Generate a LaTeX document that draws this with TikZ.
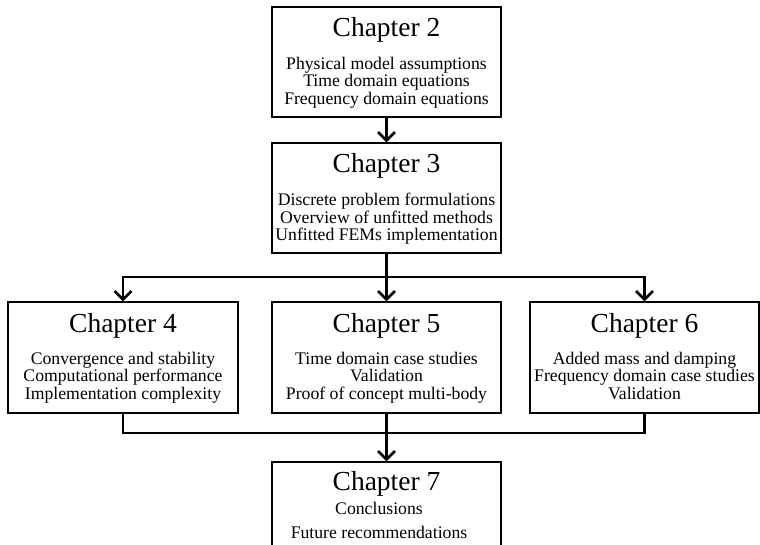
\documentclass[tikz,border=0pt]{standalone}
\usepackage{fontspec}
\setmainfont{Liberation Serif}
\usetikzlibrary{arrows.meta}
\tikzset{
  chbox/.style={draw=black, line width=1.2pt, minimum width=229pt, minimum height=110pt, inner sep=0pt},
  chtitle/.style={anchor=base, inner sep=0pt, font=\fontsize{27.5}{30}\selectfont},
  chbody/.style={anchor=north, inner sep=0pt, align=center, font=\fontsize{17.7}{17.4}\selectfont},
  conn/.style={line width=2.6pt, line join=miter, draw=black},
  arr/.style={conn, -{Straight Barb[length=8.5pt,width=17pt,line width=2.6pt]}}
}
\begin{document}
\begin{tikzpicture}[x=1pt,y=-1pt]
\useasboundingbox (0,0) rectangle (760,545);
\clip (0,0) rectangle (760,545);
% boxes
\node[chbox] (c2) at (386.5,62) {};
\node[chbox] (c3) at (386.5,198) {};
\node[chbox, minimum width=230pt, minimum height=111pt] (c4) at (123,357.5) {};
\node[chbox, minimum height=111pt] (c5) at (386.5,357.5) {};
\node[chbox, minimum height=111pt] (c6) at (644.5,357.5) {};
\node[chbox] (c7) at (386.5,517) {};
% titles
\node[chtitle] (t2) at (386.5,37) {Chapter 2};
\node[chtitle] (t3) at (386.5,172.5) {Chapter 3};
\node[chtitle] (t4) at (123,332) {Chapter 4};
\node[chtitle] (t5) at (386.5,332) {Chapter 5};
\node[chtitle] (t6) at (644.5,332) {Chapter 6};
\node[chtitle] (t7) at (386.5,490.5) {Chapter 7};
% bodies
\node[chbody] (b2) at (386.5,57) {Physical model assumptions\\Time domain equations\\Frequency domain equations};
\node[chbody] (b3) at (386.5,193) {Discrete problem formulations\\Overview of unfitted methods\\Unfitted FEMs implementation};
\node[chbody] (b4) at (123,352) {Convergence and stability\\Computational performance\\Implementation complexity};
\node[chbody] (b5) at (386.5,352) {Time domain case studies\\Validation\\Proof of concept multi-body};
\node[chbody] (b6) at (644.5,352) {Added mass and damping\\Frequency domain case studies\\Validation};
\node[chbody, font=\fontsize{17.7}{24}\selectfont] (b7) at (379,502.5) {Conclusions\\Future recommendations};
% connectors
\coordinate (j1) at (386.5,277);
\coordinate (j2) at (386.5,433);
\draw[arr] (c2.south) -- (c3.north);
\draw[arr] (c3.south) -- (c5.north);
\draw[arr] (j1) -| (c4.north);
\draw[arr] (j1) -| (c6.north);
\draw[conn] (c4.south) |- (j2);
\draw[conn] (c6.south) |- (j2);
\draw[arr] (c5.south) -- (c7.north);
\end{tikzpicture}
\end{document}
